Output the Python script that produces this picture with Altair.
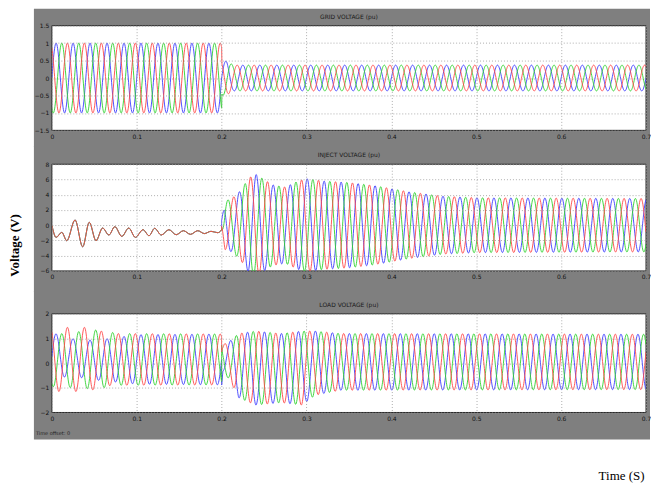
import numpy as np
import pandas as pd
import altair as alt

# ---------------- common values ----------------
FREQ_HZ = 50.0          # cycle spacing
DT = 0.0004
T_END = 0.7
X_TICKS = [0, 0.1, 0.2, 0.3, 0.4, 0.5, 0.6, 0.7]
PHASES = ["A", "B", "C"]
PHASE_COLORS = ["#3c3cff", "#2fd22f", "#ff4646"]   # blue, green, red
PHASE_SHIFT_DEG = [0, -120, 120]

# ---------------- GRID VOLTAGE (pu) ----------------
grid_title = "GRID VOLTAGE  (pu)"
grid_yticks = [-1.5, -1, -0.5, 0, 0.5, 1, 1.5]
grid_env_t = [0.0, 0.2, 0.2002, 0.206, 0.214, 0.7]
grid_env_amp = [1.0, 1.0, 0.5, 0.48, 0.37, 0.37]

# ---------------- INJECT VOLTAGE (pu) ----------------
inject_title = "INJECT VOLTAGE  (pu)"
inject_yticks = [-6, -4, -2, 0, 2, 4, 6, 8]
# transient before the sag (turning points)
inject_pre_t = [0.0, 0.005, 0.0117, 0.0176, 0.0273, 0.0363, 0.0441, 0.052, 0.0598,
                0.0672, 0.0742, 0.0824, 0.0906, 0.0984, 0.1074, 0.1145, 0.1211,
                0.1289, 0.1379, 0.1465, 0.155, 0.1633, 0.1719, 0.1797, 0.1875,
                0.1953, 0.2]
inject_pre_v = [0.0, -1.6, -0.94, -2.04, 0.69, -2.83, 0.38, -2.04, -0.37,
                -1.29, -0.19, -1.47, -0.37, -1.6, -0.59, -1.38, -0.41,
                -1.29, -0.59, -1.25, -0.72, -1.2, -0.72, -1.1, -0.8,
                -0.98, -0.6]
inject_env_t = [0.2, 0.204, 0.212, 0.222, 0.232, 0.24, 0.25, 0.26, 0.275, 0.29,
                0.30, 0.32, 0.35, 0.38, 0.42, 0.46, 0.5, 0.7]
inject_env_amp = [0.6, 3.2, 3.5, 4.5, 6.2, 6.7, 6.0, 5.3, 5.0, 5.8,
                  6.1, 5.8, 5.6, 5.2, 4.4, 3.8, 3.6, 3.5]
inject_post_shift_deg = 75

# ---------------- LOAD VOLTAGE (pu) ----------------
load_title = "LOAD VOLTAGE  (pu)"
load_yticks = [-2, -1, 0, 1, 2]
load_pre_blue_t = [0.0, 0.02, 0.05, 0.1, 0.2]
load_pre_blue_amp = [1.0, 0.75, 0.8, 1.0, 1.03]
load_pre_blue_off = [0.25, 0.25, 0.12, 0.15, 0.15]
load_pre_green_t = [0.0, 0.05, 0.08, 0.2]
load_pre_green_amp = [1.05, 1.2, 1.05, 1.03]
load_pre_green_off = [0.1, 0.15, 0.15, 0.15]
load_pre_red_t = [0.0, 0.04, 0.07, 0.2]
load_pre_red_amp = [1.3, 1.3, 1.05, 1.03]
load_pre_red_off = [0.15, 0.15, 0.15, 0.15]
load_post_t = [0.2, 0.2015, 0.21, 0.22, 0.24, 0.27, 0.295, 0.31, 0.34, 0.7]
load_post_amp = [1.0, 0.55, 0.8, 1.3, 1.5, 1.4, 1.5, 1.3, 1.15, 1.12]
load_post_off = [0.1, 0.2, 0.1, -0.1, -0.2, -0.2, -0.2, 0.0, 0.05, 0.05]
load_post_shift_deg = -99

TIME_OFFSET_TEXT = "Time offset:  0"

# ---------------- build series ----------------
W_OMEGA = 2 * np.pi * FREQ_HZ
t_all = np.round(np.arange(0.0, T_END + DT / 2, DT), 5)
t_pre = t_all[t_all <= 0.2]
t_post = t_all[t_all >= 0.2]


def wave(tt, env_t, env_a, shift_deg, off_t=None, off_v=None):
    a = np.interp(tt, env_t, env_a)
    o = np.interp(tt, off_t, off_v) if off_t is not None else 0.0
    return o + a * np.sin(W_OMEGA * tt + np.deg2rad(shift_deg))


def frame(rows):
    return pd.DataFrame(rows, columns=["t", "v", "phase"]).round({"t": 5, "v": 3})


grid_rows = []
for p, sh in zip(PHASES, PHASE_SHIFT_DEG):
    vv = wave(t_all, grid_env_t, grid_env_amp, sh)
    grid_rows += list(zip(t_all, vv, [p] * len(t_all)))
grid_df = frame(grid_rows)

inject_rows = []
for p, sh in zip(PHASES, PHASE_SHIFT_DEG):
    inject_rows += list(zip(inject_pre_t, inject_pre_v, [p] * len(inject_pre_t)))
    vv = wave(t_post, inject_env_t, inject_env_amp, sh + inject_post_shift_deg)
    inject_rows += list(zip(t_post, vv, [p] * len(t_post)))
inject_df = frame(inject_rows)

load_pre = {
    "A": (load_pre_blue_t, load_pre_blue_amp, load_pre_blue_off),
    "B": (load_pre_green_t, load_pre_green_amp, load_pre_green_off),
    "C": (load_pre_red_t, load_pre_red_amp, load_pre_red_off),
}
load_rows = []
for p, sh in zip(PHASES, PHASE_SHIFT_DEG):
    et, ea, eo = load_pre[p]
    v1 = wave(t_pre, et, ea, sh, et, eo)
    load_rows += list(zip(t_pre, v1, [p] * len(t_pre)))
    v2 = wave(t_post, load_post_t, load_post_amp, sh + load_post_shift_deg,
              load_post_t, load_post_off)
    load_rows += list(zip(t_post, v2, [p] * len(t_post)))
load_df = frame(load_rows)

# ---------------- chart ----------------
PLOT_W = 596
FRAME_GRAY = "#7f7f7f"
ONE = pd.DataFrame({"k": [0]})

AXIS_STYLE = dict(
    labelFont="DejaVu Sans", labelFontSize=6, labelColor="#111", ticks=False, domain=False,
    grid=True, gridColor="#9a9a9a", gridDash=[1, 2], gridWidth=0.8, labelPadding=3,
    labelFlush=False, zindex=1,
)


def panel(df, title_text, ydom, yticks, h, slice_top, slice_bottom, x_axis, extras=()):
    bg = alt.Chart(ONE).mark_rect(color=FRAME_GRAY, clip=False).encode(
        x=alt.value(-18), x2=alt.value(PLOT_W + 4),
        y=alt.value(slice_top), y2=alt.value(slice_bottom))
    face = alt.Chart(ONE).mark_rect(fill="white", stroke="#262626", strokeWidth=1).encode(
        x=alt.value(0), x2=alt.value(PLOT_W), y=alt.value(0), y2=alt.value(h))
    head = alt.Chart(pd.DataFrame({"label": [title_text]})).mark_text(
        align="center", baseline="middle", fontSize=6, font="DejaVu Sans",
        color="#1a1a1a", clip=False,
    ).encode(text="label:N", x=alt.value(PLOT_W / 2), y=alt.value(-9))
    xenc = alt.X("t:Q", scale=alt.Scale(domain=[0, 0.7], nice=False, zero=False), axis=x_axis)
    yenc = alt.Y("v:Q", scale=alt.Scale(domain=ydom, nice=False, zero=False),
                 axis=alt.Axis(values=yticks, format="~g", title=None, **AXIS_STYLE))
    lines = [
        alt.Chart(df[df.phase == p]).mark_line(
            color=c, strokeWidth=0.9, interpolate="monotone", clip=True
        ).encode(x=xenc, y=yenc)
        for p, c in zip(PHASES, PHASE_COLORS)
    ]
    return alt.layer(bg, face, head, *lines, *extras).properties(width=PLOT_W, height=h)


H1, H2, H3 = 105, 107, 99

plain_x = alt.Axis(values=X_TICKS, format="~g", title=None, **AXIS_STYLE)
last_x = alt.Axis(values=X_TICKS, format="~g", title="Time (S)",
                  titleFont="Liberation Serif", titleFontSize=13, titleFontWeight="normal",
                  titleColor="black", titleX=PLOT_W - 2, titleY=63,
                  titleAlign="right", titleBaseline="middle", titleAngle=0, **AXIS_STYLE)

offset_text = alt.Chart(pd.DataFrame({"label": [TIME_OFFSET_TEXT]})).mark_text(
    align="left", baseline="middle", fontSize=5, font="DejaVu Sans", color="#222", clip=False
).encode(text="label:N", x=alt.value(-16), y=alt.value(H3 + 21))

# slices of the grey frame overlap by one pixel (spacing -1) so no seam shows
p1 = panel(grid_df, grid_title, [-1.5, 1.5], grid_yticks, H1, -17, 122, plain_x)
p2 = panel(inject_df, inject_title, [-6, 8], inject_yticks, H2, -18, 128, plain_x)
p3 = panel(load_df, load_title, [-2, 2], load_yticks, H3, -23, 126, last_x, extras=(offset_text,))

chart = alt.vconcat(p1, p2, p3, spacing=-1).properties(
    title=alt.TitleParams("Voltage (V)", orient="left", anchor="middle",
                          font="Liberation Serif", fontSize=13, fontWeight="bold",
                          color="black", offset=12),
    padding={"left": 1, "top": 0, "right": 0, "bottom": 0},
).configure_view(stroke=None)

chart.save("out.html", embed_options={"renderer": "svg", "actions": False})
